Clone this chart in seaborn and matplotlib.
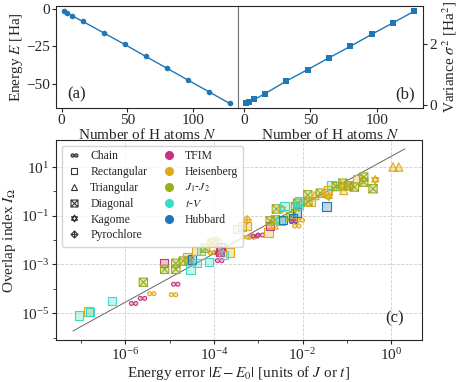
import numpy as np
import pandas as pd
import matplotlib
matplotlib.use("Agg")
import matplotlib.pyplot as plt
from matplotlib.path import Path
from matplotlib.lines import Line2D
from matplotlib.ticker import NullFormatter
import seaborn as sns

sns.set_style("ticks")
plt.rcParams['font.family'] = ['Liberation Serif', 'DejaVu Serif']
plt.rcParams['mathtext.fontset'] = 'stix'
plt.rcParams['font.size'] = 11
plt.rcParams['xtick.major.size'] = 3
plt.rcParams['ytick.major.size'] = 3
plt.rcParams['xtick.major.pad'] = 1.5
plt.rcParams['ytick.major.pad'] = 1.5
plt.rcParams['xtick.minor.size'] = 2
plt.rcParams['ytick.minor.size'] = 2

# hydrogen chains, panels (a) and (b)
n_atoms = [2, 4, 8, 16, 32, 48, 64, 80, 96, 112, 128]
energy = [-1.1, -2.2, -4.3, -8.0, -15.8, -23.6, -31.7, -39.6, -47.6, -55.5, -63.5]
variance = [0.034, 0.09, 0.17, 0.36, 0.78, 1.16, 1.55, 1.93, 2.33, 2.71, 3.10]

# lattice models, panel (c): log10 of energy error and overlap index
lattice = ['Rectangular', 'Rectangular', 'Rectangular', 'Rectangular', 'Chain', 'Chain', 'Chain', 'Diagonal',
           'Rectangular', 'Diagonal', 'Diagonal', 'Diagonal', 'Chain', 'Chain', 'Diagonal', 'Diagonal',
           'Rectangular', 'Rectangular', 'Rectangular', 'Rectangular', 'Rectangular', 'Rectangular', 'Diagonal',
           'Rectangular', 'Diagonal', 'Rectangular', 'Rectangular', 'Chain', 'Chain', 'Rectangular', 'Chain',
           'Chain', 'Rectangular', 'Rectangular', 'Rectangular', 'Rectangular', 'Rectangular', 'Pyrochlore',
           'Rectangular', 'Chain', 'Chain', 'Chain', 'Chain', 'Rectangular', 'Rectangular', 'Diagonal',
           'Diagonal', 'Triangular', 'Rectangular', 'Rectangular', 'Diagonal', 'Kagome', 'Rectangular',
           'Diagonal', 'Rectangular', 'Chain', 'Chain', 'Chain', 'Rectangular', 'Diagonal', 'Diagonal',
           'Rectangular', 'Rectangular', 'Diagonal', 'Diagonal', 'Rectangular', 'Triangular', 'Diagonal',
           'Rectangular', 'Rectangular', 'Kagome', 'Rectangular', 'Rectangular', 'Diagonal', 'Diagonal',
           'Kagome', 'Triangular', 'Triangular', 'Diagonal', 'Kagome', 'Diagonal', 'Rectangular', 'Diagonal',
           'Diagonal', 'Diagonal', 'Kagome', 'Triangular', 'Triangular']
model = ['t-V', 'Heisenberg', 't-V', 't-V', 'TFIM', 'TFIM', 'Heisenberg', 'J1-J2',
         'TFIM', 'J1-J2', 'J1-J2', 'J1-J2', 'TFIM', 'Heisenberg', 'J1-J2', 'J1-J2',
         'Heisenberg', 'Hubbard', 't-V', 't-V', 'Heisenberg', 't-V', 'J1-J2',
         't-V', 'J1-J2', 'Heisenberg', 'Hubbard', 'Heisenberg', 'Heisenberg', 'TFIM', 'TFIM',
         'TFIM', 'Heisenberg', 't-V', 'Heisenberg', 't-V', 'Heisenberg', 'Heisenberg',
         'Heisenberg', 'Heisenberg', 'Heisenberg', 'TFIM', 'TFIM', 'Heisenberg', 'TFIM', 'J1-J2',
         'J1-J2', 'Heisenberg', 't-V', 'Hubbard', 'J1-J2', 'Heisenberg', 't-V',
         'J1-J2', 'Hubbard', 'TFIM', 'Heisenberg', 'Heisenberg', 'Hubbard', 'J1-J2', 'J1-J2',
         't-V', 't-V', 'J1-J2', 'J1-J2', 'Heisenberg', 'Heisenberg', 'J1-J2',
         'Hubbard', 'Heisenberg', 'Heisenberg', 't-V', 'Heisenberg', 'J1-J2', 'J1-J2',
         'Heisenberg', 'Heisenberg', 'Heisenberg', 'J1-J2', 'Heisenberg', 'J1-J2', 'Heisenberg', 'J1-J2',
         'J1-J2', 'J1-J2', 'Heisenberg', 'Heisenberg', 'Heisenberg']
log_err = [-7.04, -6.83, -6.80, -6.29, -5.81, -5.61, -5.40, -5.59,
           -5.13, -5.11, -4.86, -4.86, -4.86, -4.91, -4.69, -4.56,
           -4.61, -4.49, -4.53, -4.38, -4.40, -4.29, -4.19,
           -4.11, -4.04, -3.93, -3.84, -4.04, -3.93, -3.86, -3.87,
           -3.87, -3.63, -3.78, -4.00, -3.48, -3.37, -3.25,
           -3.25, -3.29, -3.14, -3.07, -2.95, -2.77, -2.74, -2.73,
           -2.61, -2.64, -2.50, -2.44, -2.59, -2.46, -2.41,
           -2.26, -2.21, -2.20, -2.05, -2.13, -2.13, -2.11, -2.16,
           -2.07, -2.09, -1.88, -1.88, -1.82, -1.72, -1.60,
           -1.46, -1.46, -1.41, -1.35, -1.43, -1.24, -1.09,
           -1.09, -1.07, -1.01, -0.96, -0.92, -0.83, -0.76, -0.62,
           -0.62, -0.41, -0.36, 0.04, 0.17]
log_overlap = [-5.09, -4.93, -4.95, -4.51, -4.60, -4.39, -4.20, -3.73,
               -2.95, -3.20, -2.95, -3.20, -3.81, -4.24, -2.86, -2.86,
               -2.68, -2.79, -3.20, -2.93, -2.44, -2.44, -2.33,
               -2.90, -2.13, -2.13, -2.27, -2.51, -2.51, -2.47, -2.54,
               -2.84, -2.51, -2.61, -2.05, -1.55, -1.44, -1.17,
               -1.42, -1.88, -1.88, -1.83, -1.79, -1.69, -1.42, -1.21,
               -1.17, -1.37, -1.21, -1.17, -0.72, -0.73, -0.59,
               -1.03, -1.10, -1.24, -1.18, -1.42, -0.87, -0.48, -0.62,
               -0.42, -0.55, -0.14, -0.42, -0.42, -0.17, -0.07,
               -0.62, -0.07, -0.21, 0.24, 0.04, 0.20, 0.34,
               0.20, 0.04, 0.24, 0.23, 0.23, 0.18, 0.51, 0.59,
               0.38, 0.11, 0.48, 1.00, 1.00]

# guide line (slope one in log-log)
guide_log_err = [-7.18, 0.31]
guide_log_overlap = [-5.73, 1.75]

lattice_order = ['Chain', 'Rectangular', 'Triangular', 'Diagonal', 'Kagome', 'Pyrochlore']
model_order = ['TFIM', 'Heisenberg', 'J1-J2', 't-V', 'Hubbard']
model_labels = ['TFIM', 'Heisenberg', '$J_1$-$J_2$', '$t$-$V$', 'Hubbard']
model_colors = {'TFIM': '#C8327E', 'Heisenberg': '#DDAA1E', 'J1-J2': '#9AAE1C',
                't-V': '#3ADCC8', 'Hubbard': '#1F77B4'}

# custom marker shapes
M, L, C = Path.MOVETO, Path.LINETO, Path.CLOSEPOLY
chain_marker = Path.make_compound_path(Path.circle((-0.5, 0), 0.45), Path.circle((0.5, 0), 0.45))
diag_marker = Path([(-1, -1), (1, -1), (1, 1), (-1, 1), (-1, -1), (-1, -1), (1, 1), (-1, 1), (1, -1)],
                   [M, L, L, L, C, M, L, M, L])
kagome_marker = Path([(0, 1), (-0.866, -0.5), (0.866, -0.5), (0, 1),
                      (0, -1), (0.866, 0.5), (-0.866, 0.5), (0, -1)],
                     [M, L, L, C, M, L, L, C])
pyro_marker = Path([(0, 1), (1, 0), (0, -1), (-1, 0), (0, 1), (0, 1), (0, -1), (-1, 0), (1, 0)],
                   [M, L, L, L, C, M, L, M, L])
markers = {'Chain': chain_marker, 'Rectangular': 's', 'Triangular': '^',
           'Diagonal': diag_marker, 'Kagome': kagome_marker, 'Pyrochlore': pyro_marker}

df = pd.DataFrame({'lattice': lattice, 'model': model,
                   'err': 10.0 ** np.array(log_err), 'overlap': 10.0 ** np.array(log_overlap)})

fig = plt.figure(figsize=(4.63, 3.82), dpi=100)
ax_a = fig.add_axes([0.121, 0.717, 0.393, 0.266])
ax_b = fig.add_axes([0.514, 0.717, 0.399, 0.266])
ax_c = fig.add_axes([0.121, 0.110, 0.790, 0.524])

line_col = '#1f77b4'
sns.lineplot(x=n_atoms, y=energy, ax=ax_a, color=line_col, marker='o', markersize=4,
             markeredgewidth=0, lw=1.0)
ax_a.set_xlabel('Number of H atoms $N$', labelpad=0)
ax_a.set_ylabel('Energy $E$ [Ha]', labelpad=1)
ax_a.set_yticks([0, -25, -50])
ax_a.set_xticks([0, 50, 100])
ax_a.text(0.06, 0.1, '(a)', transform=ax_a.transAxes, fontsize=12)

sns.lineplot(x=n_atoms, y=variance, ax=ax_b, color=line_col, marker='s', markersize=3.8,
             markeredgewidth=0, lw=1.0)
ax_b.yaxis.tick_right()
ax_b.yaxis.set_label_position('right')
ax_b.set_xlabel('Number of H atoms $N$', labelpad=0)
ax_b.set_ylabel('Variance $\\sigma^2$ [Ha$^2$]', labelpad=3)
ax_b.set_yticks([0, 2])
ax_b.set_xticks([0, 50, 100])
ax_b.text(0.85, 0.1, '(b)', transform=ax_b.transAxes, fontsize=12)
ax_b.spines['left'].set_color('0.45')
ax_a.spines['right'].set_color('0.45')

# panel (c)
ax_c.plot(10.0 ** np.array(guide_log_err), 10.0 ** np.array(guide_log_overlap),
          color='0.4', lw=0.7, zorder=2)
sns.scatterplot(data=df, x='err', y='overlap', hue='model', style='lattice',
                palette=model_colors, markers=markers, s=36, linewidth=0.8,
                legend=False, ax=ax_c, zorder=3)
pts = ax_c.collections[-1]
fc = pts.get_facecolors()
pts.set_edgecolors(fc.copy())
fc[:, 3] = 0.28
pts.set_facecolors(fc)

ax_c.set_xscale('log')
ax_c.set_yscale('log')
ax_c.set_xlim(10 ** -7.56, 10 ** 0.69)
ax_c.set_ylim(10 ** -6.1, 10 ** 2.12)
ax_c.set_xticks([1e-6, 1e-4, 1e-2, 1e0])
ax_c.set_yticks([1e-5, 1e-3, 1e-1, 1e1])
ax_c.set_xticks([1e-7, 1e-5, 1e-3, 1e-1], minor=True)
ax_c.set_yticks([1e-6, 1e-4, 1e-2, 1e0], minor=True)
ax_c.xaxis.set_minor_formatter(NullFormatter())
ax_c.yaxis.set_minor_formatter(NullFormatter())
ax_c.tick_params(axis='both', which='major', pad=2)
ax_c.grid(True, which='major', ls='--', lw=0.6, color='#cfcfcf')
ax_c.set_xlabel('Energy error $|E - E_0|$ [units of $J$ or $t$]', labelpad=1)
ax_c.set_ylabel('Overlap index $I_\\Omega$', labelpad=2)
ax_c.text(0.9, 0.09, '(c)', transform=ax_c.transAxes, fontsize=12)

handles, labels = [], []
for lat in lattice_order:
    mfc = '0.55' if lat == 'Chain' else 'none'
    handles.append(Line2D([], [], ls='none', marker=markers[lat], color='0.2',
                          markerfacecolor=mfc, markersize=5, markeredgewidth=0.8))
    labels.append(lat)
for m, lab in zip(model_order, model_labels):
    handles.append(Line2D([], [], ls='none', marker='o', color=model_colors[m], markersize=5.5))
    labels.append(lab)
handles.append(Line2D([], [], ls='none'))
labels.append('')
leg = ax_c.legend(handles, labels, ncol=2, loc='upper left', fontsize=8.5, framealpha=0.8,
                  edgecolor='#cccccc', handlelength=1.2, columnspacing=1.2,
                  labelspacing=0.32, borderaxespad=0.5)
leg.set_zorder(5)

fig.savefig('out.png', dpi=100)
